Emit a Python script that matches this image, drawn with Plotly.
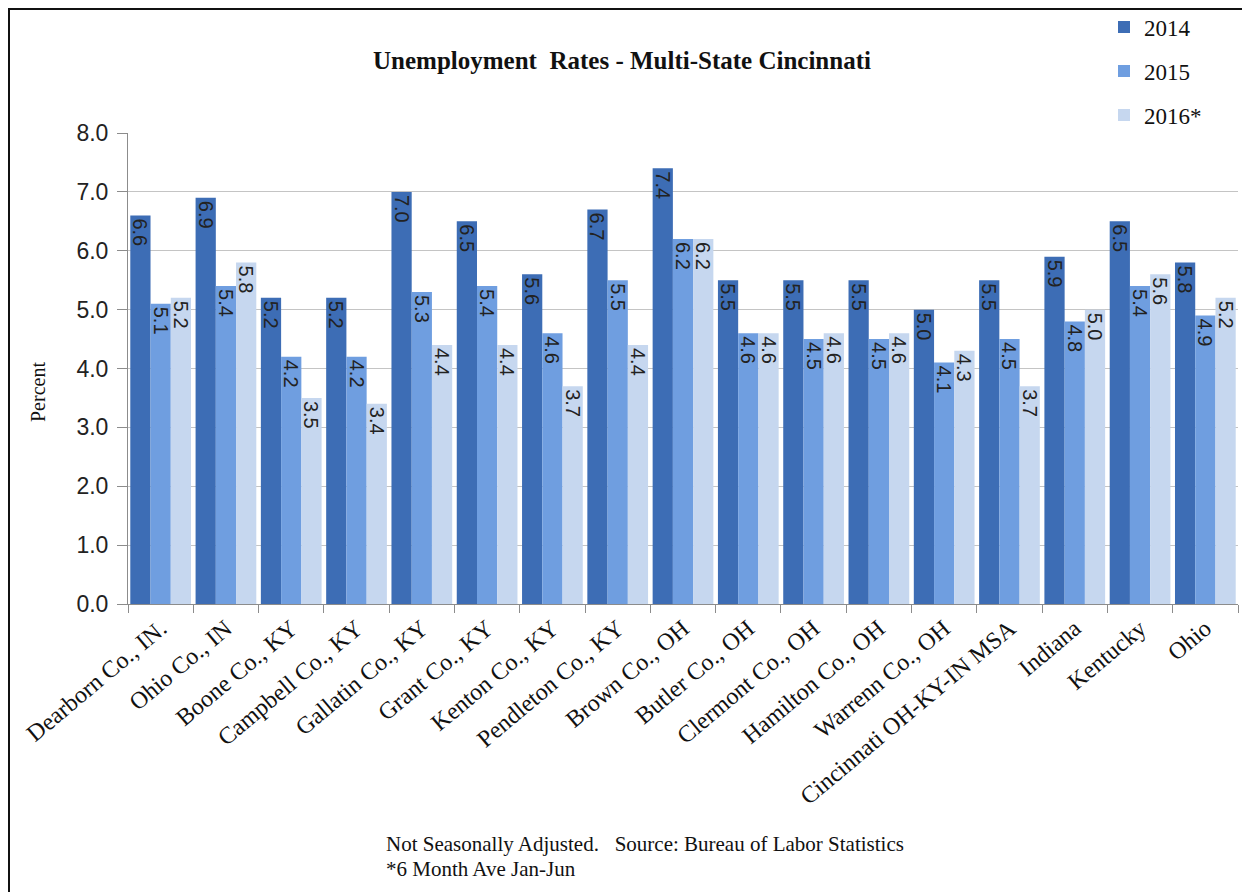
import plotly.graph_objects as go

categories = ["Dearborn Co., IN.", "Ohio Co., IN", "Boone Co., KY", "Campbell Co., KY",
              "Gallatin Co., KY", "Grant Co., KY", "Kenton Co., KY", "Pendleton Co., KY",
              "Brown Co., OH", "Butler Co., OH", "Clermont Co., OH", "Hamilton Co., OH",
              "Warrenn Co., OH", "Cincinnati OH-KY-IN MSA", "Indiana", "Kentucky", "Ohio"]
vals_2014 = [6.6, 6.9, 5.2, 5.2, 7.0, 6.5, 5.6, 6.7, 7.4, 5.5, 5.5, 5.5, 5.0, 5.5, 5.9, 6.5, 5.8]
vals_2015 = [5.1, 5.4, 4.2, 4.2, 5.3, 5.4, 4.6, 5.5, 6.2, 4.6, 4.5, 4.5, 4.1, 4.5, 4.8, 5.4, 4.9]
vals_2016 = [5.2, 5.8, 3.5, 3.4, 4.4, 4.4, 3.7, 4.4, 6.2, 4.6, 4.6, 4.6, 4.3, 3.7, 5.0, 5.6, 5.2]
series_names = ["2014", "2015", "2016*"]
series_colors = ["#3d6db5", "#6f9ee0", "#c6d7ef"]

OFF = 8  # page body margin
W, H = 1250 - OFF, 892 - OFF
# plot area in reference-page pixels: x 128..1238, y 133..604
L, R, T, B = 128 - OFF, W - (1238 - OFF), 133 - OFF, H - (604 - OFF)
pw, ph = W - L - R, H - T - B

def px_x(x):
    return (x - OFF - L) / pw

def px_y(y):
    return (H - B - (y - OFF)) / ph

SERIF = "Liberation Serif, Times New Roman, serif"
SANS = "Liberation Sans, Arial, sans-serif"

fig = go.Figure()
legends = ["legend", "legend2", "legend3"]
for name, vals, col, lg in zip(series_names, [vals_2014, vals_2015, vals_2016], series_colors, legends):
    fig.add_trace(go.Bar(
        x=categories, y=vals, name=name, marker=dict(color=col, line=dict(width=0)),
        text=[f"{v:.1f}" for v in vals], textposition="inside", insidetextanchor="end",
        textangle=90, constraintext="none",
        textfont=dict(family=SANS, size=20, color="#222222"),
        legend=lg,
    ))

leg_common = dict(font=dict(family=SERIF, size=23, color="#111111"),
                  bgcolor="rgba(0,0,0,0)", xanchor="left", yanchor="middle", itemwidth=30)
leg_x = px_x(1104)
fig.update_layout(
    legend=dict(x=leg_x, y=px_y(27), **leg_common),
    legend2=dict(x=leg_x, y=px_y(71), **leg_common),
    legend3=dict(x=leg_x, y=px_y(115), **leg_common),
)

fig.update_layout(
    width=W, height=H,
    margin=dict(l=L, r=R, t=T, b=B, autoexpand=False),
    paper_bgcolor="white", plot_bgcolor="white",
    barmode="group", bargap=0.07, bargroupgap=0,
    showlegend=True,
    title=dict(text="<b>Unemployment  Rates - Multi-State Cincinnati</b>",
               x=(622 - OFF) / W, xanchor="center", y=1 - (60 - OFF) / H, yanchor="middle",
               font=dict(family=SERIF, size=25, color="#111111")),
    xaxis=dict(tickangle=-40, tickson="boundaries", ticks="outside", ticklen=8,
               tickcolor="#8c8c8c", showline=True, linecolor="#8c8c8c", linewidth=1,
               showgrid=False,
               tickfont=dict(family=SERIF, size=24, color="#111111")),
    yaxis=dict(range=[0, 8], dtick=1, tickformat=".1f", ticks="outside", ticklen=10,
               ticklabelstandoff=4,
               tickcolor="#8c8c8c", showline=True, linecolor="#8c8c8c", linewidth=1,
               showgrid=True, gridcolor="#c4c4c4", gridwidth=1, zeroline=False,
               tickfont=dict(family=SANS, size=23, color="#222222")),
)

fig.add_annotation(text="Percent", textangle=-90,
                   xref="paper", yref="paper", x=px_x(38), y=px_y(392),
                   xanchor="center", yanchor="middle", showarrow=False,
                   font=dict(family=SERIF, size=20, color="#111111"))
fig.add_annotation(text="Not Seasonally Adjusted.   Source: Bureau of Labor Statistics",
                   xref="paper", yref="paper", x=px_x(384), y=px_y(844),
                   xanchor="left", yanchor="middle", showarrow=False,
                   font=dict(family=SERIF, size=21, color="#111111"))
fig.add_annotation(text="*6 Month Ave Jan-Jun",
                   xref="paper", yref="paper", x=px_x(384), y=px_y(869),
                   xanchor="left", yanchor="middle", showarrow=False,
                   font=dict(family=SERIF, size=21, color="#111111"))

fig.add_shape(type="rect", xref="paper", yref="paper",
              x0=px_x(OFF + 1), x1=px_x(1260), y0=px_y(900), y1=px_y(OFF + 1),
              line=dict(color="#111111", width=2), fillcolor="rgba(0,0,0,0)", layer="above")

fig.write_html("out.html")
